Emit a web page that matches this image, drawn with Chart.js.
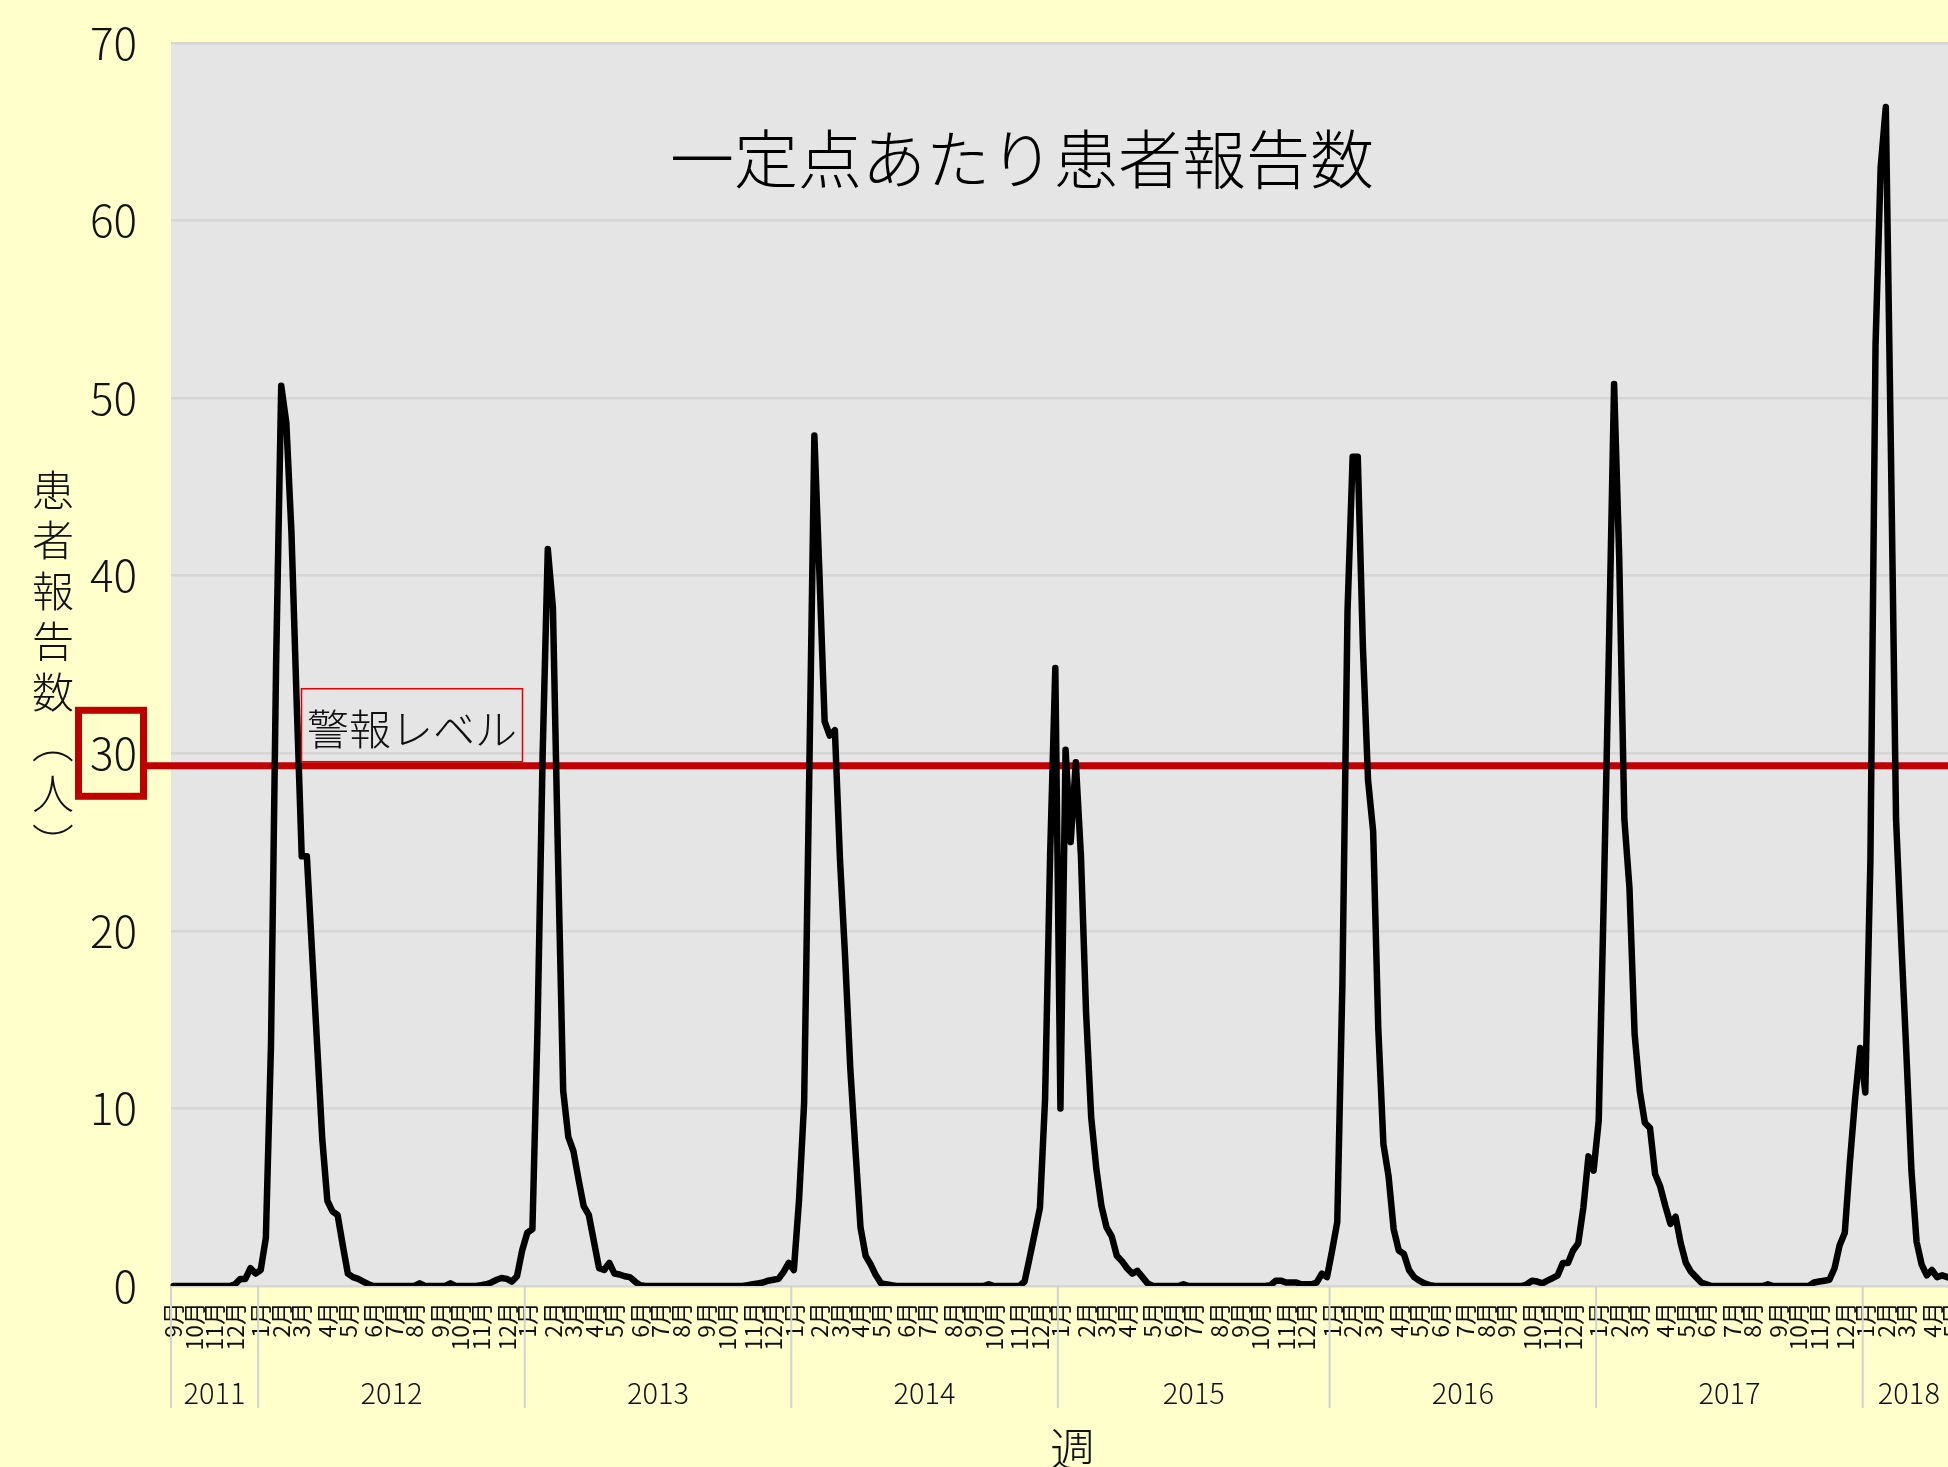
<!DOCTYPE html>
<html lang="ja">
<head>
<meta charset="utf-8">
<title>一定点あたり患者報告数</title>
<script src="https://cdn.jsdelivr.net/npm/chart.js@4.4.1/dist/chart.umd.min.js"></script>
<style>
  html, body { margin: 0; padding: 0; background: #ffffcc; overflow: hidden; }
  #wrap { width: 1948px; height: 1467px; overflow: hidden; }
  canvas { display: block; }
</style>
</head>
<body>
<div id="wrap"><canvas id="chart" width="1955" height="1467"></canvas></div>
<script>
// Weekly reports per sentinel site, one array per year (ISO weeks, 2011 starts at week 36)
const y2011 = [0, 0, 0, 0, 0, 0, 0, 0, 0, 0, 0, 0, 0.1, 0.4, 0.4, 1.0, 0.7];
const y2012 = [0.9, 2.7, 13.5, 35, 50.7, 48.6, 42.4, 33, 24.2, 24.2, 18.9, 13.6, 8.3, 4.8, 4.2, 4.0, 2.3, 0.7, 0.5, 0.4, 0.25, 0.1, 0,
  0, 0, 0, 0, 0, 0, 0, 0, 0.15, 0, 0, 0, 0, 0, 0.15, 0, 0, 0, 0, 0,
  0.05, 0.1, 0.2, 0.35, 0.45, 0.4, 0.25, 0.55, 2.0];
const y2013 = [3.0, 3.2, 14.6, 30, 41.5, 38.2, 24, 11, 8.4, 7.6, 6.0, 4.5, 4.0, 2.5, 1.0, 0.9, 1.3, 0.7, 0.65, 0.55, 0.5, 0.25, 0.05,
  0, 0, 0, 0, 0, 0, 0, 0, 0, 0, 0, 0, 0, 0, 0, 0, 0, 0, 0, 0,
  0.05, 0.1, 0.15, 0.2, 0.3, 0.35, 0.4, 0.8, 1.3];
const y2014 = [0.9, 4.8, 10.3, 28.7, 47.9, 40, 31.8, 31, 31.3, 24, 18.5, 12.3, 7.7, 3.3, 1.7, 1.2, 0.6, 0.15, 0.1, 0.05,
  0, 0, 0, 0, 0, 0, 0, 0, 0, 0, 0, 0, 0, 0, 0, 0, 0, 0, 0.1, 0, 0, 0, 0, 0, 0,
  0.25, 1.6, 3.0, 4.4, 10.5, 24.4, 34.8];
const y2015 = [10, 30.2, 25, 29.5, 24.2, 15.4, 9.5, 6.6, 4.5, 3.3, 2.8, 1.7, 1.4, 1.0, 0.7, 0.85, 0.5, 0.15,
  0, 0, 0, 0, 0, 0, 0.1, 0, 0, 0, 0, 0, 0, 0, 0, 0, 0, 0, 0, 0, 0, 0, 0,
  0.05, 0.3, 0.3, 0.2, 0.2, 0.2, 0.1, 0.1, 0.1, 0.2, 0.7, 0.5];
const y2016 = [2.0, 3.6, 17, 38, 46.7, 46.7, 36, 28.5, 25.6, 14.5, 8.0, 6.2, 3.2, 2.0, 1.8, 0.9, 0.5, 0.3, 0.15, 0.05,
  0, 0, 0, 0, 0, 0, 0, 0, 0, 0, 0, 0, 0, 0, 0, 0, 0, 0,
  0.1, 0.3, 0.25, 0.15, 0.3, 0.45, 0.6, 1.3, 1.3, 2.0, 2.4, 4.4, 7.3, 6.5];
const y2017 = [9.3, 22, 36, 50.8, 41, 26.3, 22.4, 14.2, 11, 9.2, 8.9, 6.3, 5.6, 4.5, 3.5, 3.9, 2.4, 1.3, 0.8, 0.5, 0.2, 0.1,
  0, 0, 0, 0, 0, 0, 0, 0, 0, 0, 0, 0.1, 0, 0, 0, 0, 0, 0, 0, 0,
  0.2, 0.25, 0.3, 0.35, 1.0, 2.3, 3.0, 7.0, 10.5, 13.4];
const y2018 = [10.9, 24, 53, 63, 66.4, 47, 26.3, 19.5, 13.2, 6.5, 2.5, 1.2, 0.6, 0.9, 0.5, 0.6, 0.5, 0.4];

const yearNames = ['2011', '2012', '2013', '2014', '2015', '2016', '2017', '2018'];
const yearSeries = [y2011, y2012, y2013, y2014, y2015, y2016, y2017, y2018];
const firstThursday = [2011, 8, 8]; // Thursday of 2011 week 36
const yTicks = [0, 10, 20, 30, 40, 50, 60, 70];
const alertLevel = 29.3;
const titleText = '一定点あたり患者報告数';
const yTitle = '患者報告数（人）';
const xTitle = '週';
const alertText = '警報レベル';

const FONT = "'Noto Sans CJK JP', 'Noto Sans', sans-serif";
const RED = '#c00000';
const INK = '#111';

const values = yearSeries.flat();

// month label on the first week whose Thursday falls in a new month
const weekLabels = values.map((_, i) => {
  const d = new Date(firstThursday[0], firstThursday[1], firstThursday[2] + 7 * i);
  const p = new Date(firstThursday[0], firstThursday[1], firstThursday[2] + 7 * (i - 1));
  return (i === 0 || d.getMonth() !== p.getMonth()) ? (d.getMonth() + 1) + '月' : '';
});

// first index of every year
const yearStarts = [];
yearSeries.reduce((acc, s) => { yearStarts.push(acc); return acc + s.length; }, 0);

const decor = {
  id: 'decor',
  beforeDraw(chart) {
    const { ctx, chartArea: a } = chart;
    ctx.save();
    ctx.fillStyle = '#ffffcc';
    ctx.fillRect(0, 0, chart.width, chart.height);
    ctx.fillStyle = '#e5e5e5';
    ctx.fillRect(a.left, a.top, a.right - a.left, a.bottom - a.top);
    ctx.restore();
  },
  beforeDatasetsDraw(chart) {
    const { ctx, chartArea: a, scales: { y } } = chart;
    const py = y.getPixelForValue(alertLevel);
    ctx.save();
    ctx.strokeStyle = RED;
    ctx.lineWidth = 7;
    ctx.beginPath();
    ctx.moveTo(144, py);
    ctx.lineTo(a.right, py);
    ctx.stroke();
    ctx.restore();
  },
  afterDraw(chart) {
    const { ctx, chartArea: a, scales: { x, y } } = chart;
    ctx.save();

    // title inside the plot
    ctx.fillStyle = '#000';
    ctx.font = `300 64px ${FONT}`;
    ctx.textAlign = 'center';
    ctx.textBaseline = 'middle';
    ctx.fillText(titleText, 1022, 159);

    // red box round the 30 tick label
    const p30 = y.getPixelForValue(30);
    ctx.strokeStyle = RED;
    ctx.lineWidth = 7;
    ctx.strokeRect(78.5, p30 - 43, 65, 86);

    // 警報レベル label
    const py = y.getPixelForValue(alertLevel);
    ctx.lineWidth = 1.5;
    ctx.strokeStyle = '#e00000';
    ctx.strokeRect(301.5, py - 77, 221, 73);
    ctx.fillStyle = '#111';
    ctx.font = `300 42px ${FONT}`;
    ctx.textAlign = 'left';
    ctx.fillText(alertText, 307, py - 37);

    // vertical y title, one character per cell
    ctx.font = `300 42px ${FONT}`;
    ctx.textAlign = 'center';
    ctx.fillStyle = INK;
    Array.from(yTitle).forEach((ch, k) => {
      ctx.save();
      ctx.translate(53, 490 + k * 50.5);
      if (ch === '（' || ch === '）') ctx.rotate(Math.PI / 2);
      ctx.fillText(ch, 0, 0);
      ctx.restore();
    });

    // year separators and year labels
    const edges = yearStarts.map(i => i === 0 ? a.left : (x.getPixelForValue(i - 1) + x.getPixelForValue(i)) / 2);
    edges.push(a.right);
    ctx.strokeStyle = '#d2d2d2';
    ctx.lineWidth = 2;
    edges.slice(0, -1).forEach(ex => {
      ctx.beginPath();
      ctx.moveTo(ex, a.bottom);
      ctx.lineTo(ex, 1408);
      ctx.stroke();
    });
    ctx.font = `300 29px ${FONT}`;
    ctx.fillStyle = INK;
    yearNames.forEach((n, k) => ctx.fillText(n, (edges[k] + edges[k + 1]) / 2, 1393));

    // x title
    ctx.font = `300 46px ${FONT}`;
    ctx.fillText(xTitle, (a.left + a.right) / 2 + 10, 1449);
    ctx.restore();
  }
};

new Chart(document.getElementById('chart'), {
  type: 'line',
  data: {
    labels: weekLabels,
    datasets: [{
      data: values,
      borderColor: '#000',
      borderWidth: 6.5,
      borderJoinStyle: 'round',
      borderCapStyle: 'round',
      pointRadius: 0,
      tension: 0,
      fill: false
    }]
  },
  options: {
    responsive: false,
    animation: false,
    devicePixelRatio: 1,
    layout: { padding: { top: 43, right: 0, bottom: 0, left: 0 } },
    plugins: { legend: { display: false }, tooltip: { enabled: false } },
    scales: {
      x: {
        type: 'category',
        offset: true,
        grid: { display: false },
        border: { display: false },
        ticks: {
          autoSkip: false,
          maxRotation: 90,
          minRotation: 90,
          padding: 8,
          color: INK,
          font: { family: FONT, size: 23, weight: 400 },
          callback: (v, i) => weekLabels[i]
        },
        afterFit(s) { s.height = 181; s.paddingLeft = 0; s.paddingRight = 0; }
      },
      y: {
        min: yTicks[0],
        max: yTicks[yTicks.length - 1],
        afterBuildTicks(s) { s.ticks = yTicks.map(v => ({ value: v })); },
        grid: { color: '#d6d6d6', lineWidth: 2.5, drawTicks: false },
        border: { display: false },
        ticks: {
          padding: 34,
          color: INK,
          font: { family: FONT, size: 44, weight: 300 }
        },
        afterFit(s) { s.width = 171; s.paddingTop = 0; s.paddingBottom = 0; }
      }
    }
  },
  plugins: [decor]
});
</script>
</body>
</html>
